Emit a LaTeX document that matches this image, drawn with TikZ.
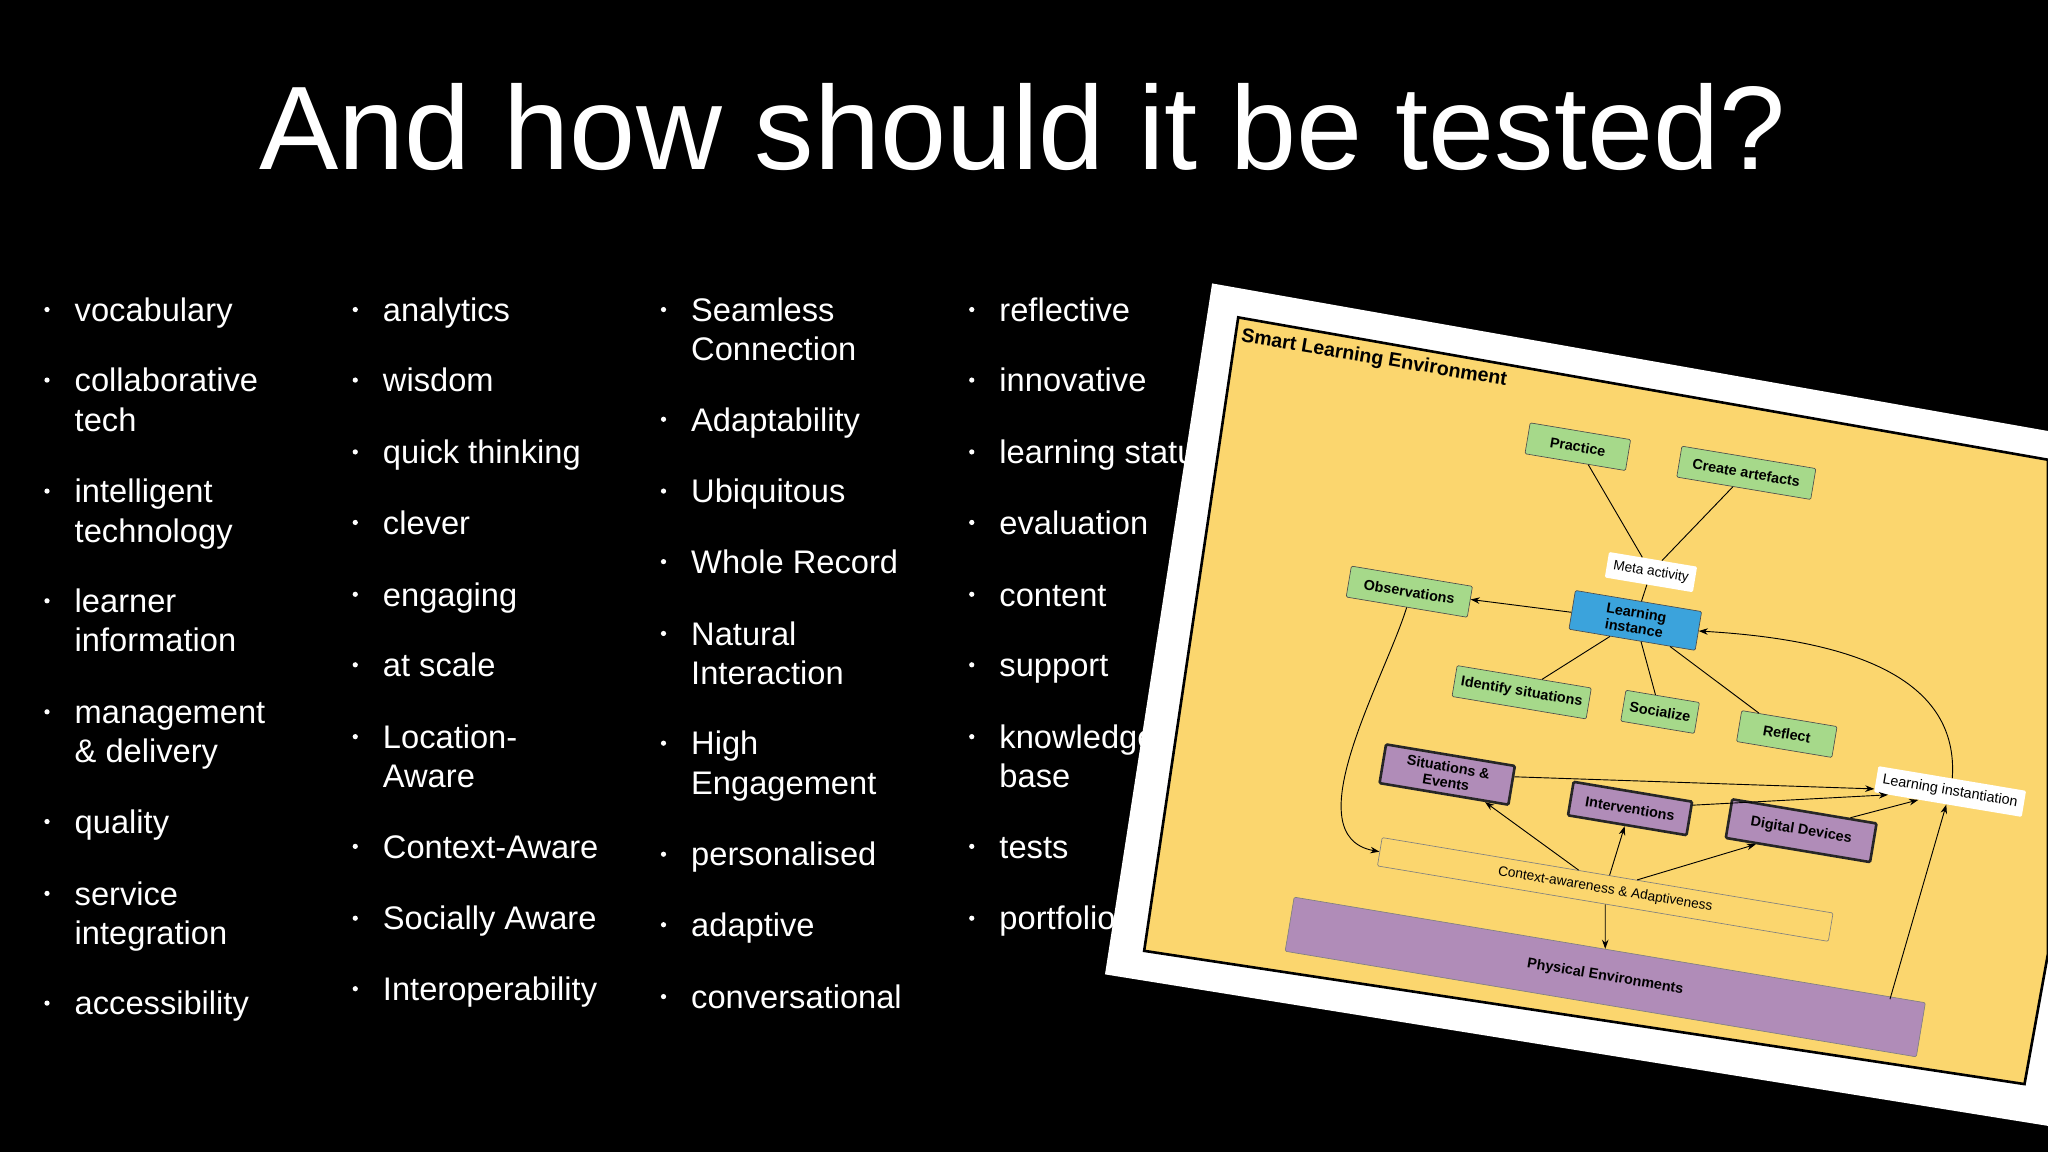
\documentclass[tikz,border=0pt]{standalone}
\usepackage{fontspec}
\setmainfont{Liberation Sans}
\usetikzlibrary{arrows.meta}
\definecolor{pgreen}{HTML}{A6D98A}
\definecolor{pblue}{HTML}{3BA3DC}
\definecolor{ppurple}{HTML}{B08CB8}
\definecolor{pyellow}{HTML}{FBD66E}
\tikzset{
 item/.style={anchor=base west,text=white,font=\fontsize{25}{25}\selectfont,inner sep=0},
 dot/.style={fill=white,circle,inner sep=0,minimum size=4pt},
 box/.style={draw=black!70,rotate=-9.5,font=\fontsize{11}{12}\selectfont\bfseries,align=center,inner sep=5pt,rounded corners=1pt},
 gbox/.style={box,fill=pgreen,line width=0.5pt,minimum height=24pt},
 pbox/.style={box,fill=ppurple,line width=2pt,draw=black!85,minimum height=26pt},
 wbox/.style={box,fill=white,draw=none,font=\fontsize{10.5}{12}\selectfont},
 ln/.style={draw=black,line width=0.7pt},
 ar/.style={ln,-{Stealth[length=7pt,width=5pt]}}
}
\begin{document}
\begin{tikzpicture}[x=1pt,y=-1pt]
\fill[black] (0,0) rectangle (1568,882);
\useasboundingbox (0,0) rectangle (1568,882);
\node[text=white,font=\fontsize{91}{91}\selectfont,anchor=base] (title) at (783,130) {And how should it be tested?};
% column 1
\foreach \y/\t in {237/vocabulary,291/collaborative,321/tech,376/intelligent,406/technology,460/learner,490/information,545/management,575/\& delivery,629/quality,684/service,714/integration,768/accessibility}
 \node[item] at (57,\y+9) {\t};
\foreach \y in {237,291,376,460,545,629,684,768} \node[dot] at (36,\y) {};
% column 2
\foreach \y/\t in {237/analytics,291/wisdom,346/quick thinking,400/clever,455/engaging,509/at scale,564/Location-,594/Aware,648/Context-Aware,703/Socially Aware,757/Interoperability}
 \node[item] at (293,\y+9) {\t};
\foreach \y in {237,291,346,400,455,509,564,648,703,757} \node[dot] at (272,\y) {};
% column 3
\foreach \y/\t in {237/Seamless,267/Connection,321/Adaptability,376/Ubiquitous,430/Whole Record,485/Natural,515/Interaction,569/High,599/Engagement,654/personalised,708/adaptive,763/conversational}
 \node[item] at (529,\y+9) {\t};
\foreach \y in {237,321,376,430,485,569,654,708,763} \node[dot] at (508,\y) {};
% column 4
\foreach \y/\t in {237/reflective,291/innovative,346/learning status,400/evaluation,455/content,509/support,564/knowledge,594/base,648/tests,703/portfolio}
 \node[item] at (765,\y+9) {\t};
\foreach \y in {237,291,346,400,455,509,564,648,703} \node[dot] at (744,\y) {};
% panel
\fill[white] (928,217) -- (1568,330) -- (1568,862) -- (846,746) -- cycle;
\filldraw[fill=pyellow,draw=black,line width=2pt] (948,243) -- (1568,352) -- (1568,730) -- (1550,830) -- (876,728) -- cycle;
\node[rotate=-9.5,font=\fontsize{15}{15}\selectfont\bfseries,anchor=west] (sle) at (947,257) {Smart Learning Environment};
\node[box,fill=ppurple,draw=black!50,line width=0.5pt,minimum width=490pt,minimum height=42pt,font=\fontsize{11}{11}\selectfont\bfseries] (phys) at (1229,748) {Physical Environments};
\node[box,fill=pyellow,draw=black!50,line width=0.5pt,minimum width=350pt,minimum height=22pt,font=\fontsize{10.5}{11}\selectfont] (ctx) at (1229,681) {Context-awareness \& Adaptiveness};
\node[gbox,minimum width=78pt] (prac) at (1208,342) {Practice};
\node[gbox,minimum width=104pt] (crea) at (1337,362) {Create artefacts};
\node[wbox] (meta) at (1264,438) {Meta activity};
\node[gbox,minimum width=94pt] (obs) at (1079,453) {Observations};
\node[box,fill=pblue,line width=0.5pt,minimum width=98pt,font=\fontsize{11}{12}\selectfont\bfseries] (li) at (1252,475) {Learning\\instance};
\node[gbox] (ids) at (1165,530) {Identify situations};
\node[gbox] (soc) at (1271,545) {Socialize};
\node[gbox,minimum width=74pt] (ref) at (1368,562) {Reflect};
\node[pbox,minimum width=100pt,font=\fontsize{11}{12}\selectfont\bfseries] (sit) at (1108,593) {Situations \&\\Events};
\node[pbox,minimum width=92pt] (int) at (1248,619) {Interventions};
\node[pbox,minimum width=112pt,minimum height=30pt] (dig) at (1379,636) {Digital Devices};
\node[wbox,font=\fontsize{11}{12}\selectfont] (lin) at (1493,606) {Learning instantiation};
% edges
\draw[ln] (prac) -- (meta);
\draw[ln] (crea) -- (meta);
\draw[ln] (meta) -- (li);
\draw[ar] (li) -- (obs);
\draw[ln] (li) -- (ids);
\draw[ln] (li) -- (soc);
\draw[ln] (li) -- (ref);
\draw[ar] (lin.north) .. controls (1500,520) and (1420,490) .. (li.east);
\draw[ar] (obs.south) .. controls (1060,520) and (990,640) .. (ctx.west);
\draw[ar] (sit) -- (lin);
\draw[ar] (int) -- (lin);
\draw[ar] (dig) -- (lin);
\draw[ar] (ctx) -- (sit);
\draw[ar] (ctx) -- (int);
\draw[ar] (ctx) -- (dig);
\draw[ar] (ctx) -- (phys);
\coordinate (pe) at (1447,765);
\draw[ar] (pe) -- (lin);
\end{tikzpicture}
\end{document}
